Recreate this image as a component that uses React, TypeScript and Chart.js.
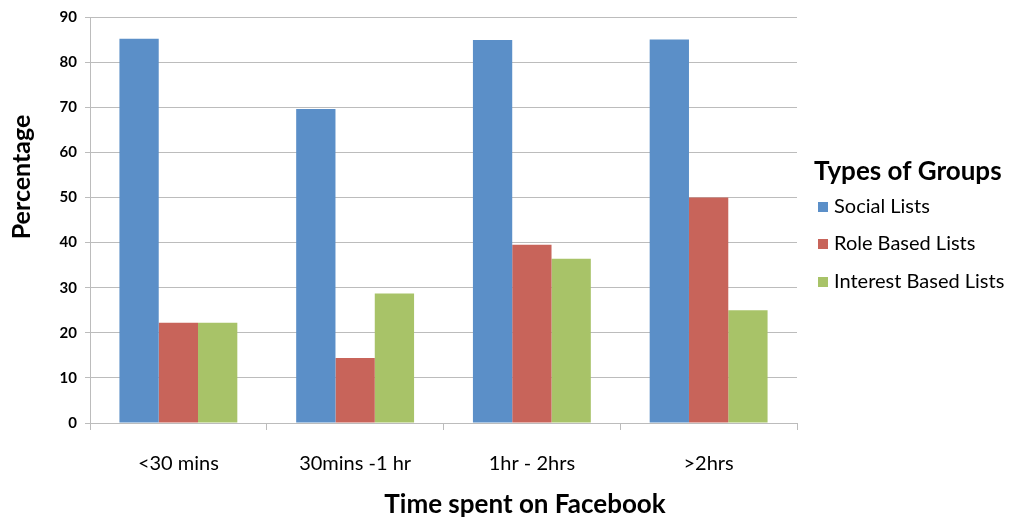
import React, { useEffect, useRef } from "react";
import { Chart, registerables } from "chart.js";

Chart.register(...registerables);

const categories = ["<30 mins", "30mins -1 hr", "1hr - 2hrs", ">2hrs"];
const socialLists = [85.2, 69.6, 84.9, 85.0];
const roleBasedLists = [22.2, 14.4, 39.5, 50.0];
const interestBasedLists = [22.2, 28.7, 36.4, 25.0];
const seriesNames = ["Social Lists", "Role Based Lists", "Interest Based Lists"];
const yTicks = [0, 10, 20, 30, 40, 50, 60, 70, 80, 90];

const FONT = "Lato, 'Open Sans', 'DejaVu Sans', sans-serif";
const GRID = "#bcbcbc";

const overlayPlugin = {
  id: "overlay",
  afterDraw(chart: any) {
    const ctx = chart.ctx;
    ctx.save();
    ctx.fillStyle = "#000";
    // y-axis title
    ctx.font = `bold 25px ${FONT}`;
    ctx.textAlign = "center";
    ctx.textBaseline = "middle";
    ctx.save();
    ctx.translate(22, 177);
    ctx.rotate(-Math.PI / 2);
    ctx.fillText("Percentage", 0, 0);
    ctx.restore();
    // x-axis title
    ctx.font = `bold 26px ${FONT}`;
    ctx.fillText("Time spent on Facebook", 525, 505);
    // legend
    ctx.textAlign = "left";
    ctx.font = `bold 26px ${FONT}`;
    ctx.fillText("Types of Groups", 814, 172);
    ctx.font = `20px ${FONT}`;
    const ys = [207, 244, 282];
    chart.data.datasets.forEach((ds: any, i: number) => {
      ctx.fillStyle = ds.backgroundColor;
      ctx.fillRect(818, ys[i] - 5, 10, 10);
      ctx.fillStyle = "#000";
      ctx.fillText(ds.label, 834, ys[i]);
    });
    ctx.restore();
  },
};

export default function App() {
  const ref = useRef<HTMLCanvasElement | null>(null);
  useEffect(() => {
    document.body.style.margin = "0";
    const chart = new Chart(ref.current!, {
      type: "bar",
      data: {
        labels: categories,
        datasets: [
          { label: seriesNames[0], data: socialLists, backgroundColor: "#5B8FC8" },
          { label: seriesNames[1], data: roleBasedLists, backgroundColor: "#C8645A" },
          { label: seriesNames[2], data: interestBasedLists, backgroundColor: "#A8C368" },
        ],
      },
      options: {
        animation: false,
        responsive: false,
        maintainAspectRatio: false,
        layout: { padding: { left: 0, right: 221, top: 16, bottom: 0 } },
        datasets: { bar: { categoryPercentage: 0.667, barPercentage: 1.0 } } as any,
        plugins: {
          legend: { display: false },
          tooltip: { enabled: false },
        },
        scales: {
          x: {
            offset: true,
            grid: {
              offset: true,
              drawOnChartArea: false,
              drawTicks: true,
              tickLength: 7,
              color: GRID,
            },
            border: { color: GRID, width: 1 },
            ticks: {
              color: "#000",
              font: { family: FONT, size: 20 },
              padding: 22,
              maxRotation: 0,
            },
            afterFit(scale: any) {
              scale.height = 98;
            },
          },
          y: {
            min: 0,
            max: 90,
            afterBuildTicks(scale: any) {
              scale.ticks = yTicks.map((v) => ({ value: v }));
            },
            grid: { color: GRID, tickLength: 5, drawTicks: true },
            border: { color: GRID, width: 1 },
            ticks: {
              color: "#000",
              font: { family: FONT, size: 15, weight: "bold" },
              padding: 8,
            },
            afterFit(scale: any) {
              scale.width = 90;
            },
          },
        },
      },
      plugins: [overlayPlugin],
    });
    return () => chart.destroy();
  }, []);
  return (
    <div style={{ width: 1018, height: 521, position: "relative" }}>
      <canvas ref={ref} width={1018} height={521} style={{ width: 1018, height: 521, display: "block" }} />
    </div>
  );
}
